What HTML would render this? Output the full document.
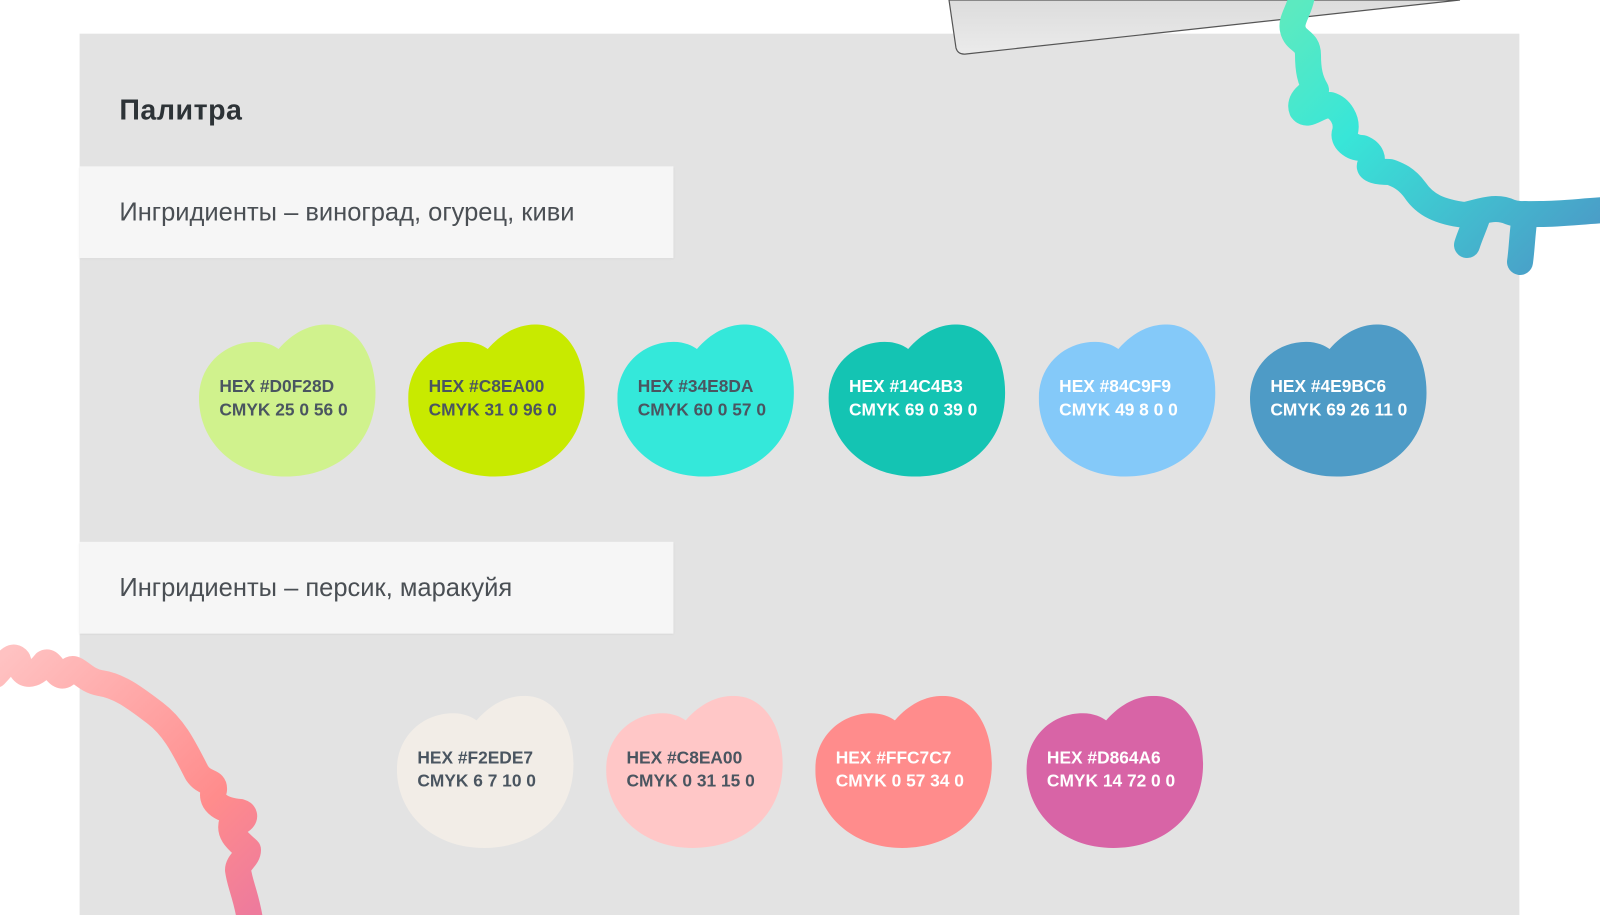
<!DOCTYPE html>
<html><head><meta charset="utf-8"><style>
html,body{margin:0;padding:0;background:#fff;width:1600px;height:915px;overflow:hidden}
#s{position:absolute;left:0;top:0;width:1568px;height:897px;transform:scale(1.0204);transform-origin:0 0;font-family:"Liberation Sans",sans-serif}
.panel{position:absolute;left:78px;top:33px;width:1411px;height:864px;background:#e3e3e3}
.title{position:absolute;left:117px;top:92px;font-size:28px;font-weight:bold;color:#2d3337;letter-spacing:0.5px}
.lab{position:absolute;left:78px;width:582px;height:90px;background:#f6f6f6;box-shadow:0 1px 2px rgba(0,0,0,0.08)}
.lab span{position:absolute;left:39px;top:31px;font-size:25px;color:#4a4f54;letter-spacing:0px}
.b{position:absolute;width:174px;height:150px}
.b svg{position:absolute;left:0;top:0}
.b div{position:absolute;left:20px;top:49px;font-size:17px;font-weight:bold;line-height:23px;color:#4a5560;white-space:nowrap}
.b.w div{color:#fff}
#o{position:absolute;left:0;top:0}
</style></head><body>
<div id="s">
<div class="panel"></div>
<div class="title">Палитра</div>
<div class="lab" style="top:163px"><span>Ингридиенты – виноград, огурец, киви</span></div>
<div class="lab" style="top:531px"><span>Ингридиенты – персик, маракуйя</span></div>

<div class="b" style="left:195px;top:318px"><svg width="174" height="150"><path d="M0,72 C0,40 25,17 55,17 C66,17 74,21 78,24 C92,8 108,0 125,0 C155,0 173,30 173,67 C173,117 135,149 85,149 C35,149 0,115 0,72Z" fill="#D0F28D"/></svg><div>HEX #D0F28D<br>CMYK 25 0 56 0</div></div>
<div class="b" style="left:400px;top:318px"><svg width="174" height="150"><path d="M0,72 C0,40 25,17 55,17 C66,17 74,21 78,24 C92,8 108,0 125,0 C155,0 173,30 173,67 C173,117 135,149 85,149 C35,149 0,115 0,72Z" fill="#C8EA00"/></svg><div>HEX #C8EA00<br>CMYK 31 0 96 0</div></div>
<div class="b" style="left:605px;top:318px"><svg width="174" height="150"><path d="M0,72 C0,40 25,17 55,17 C66,17 74,21 78,24 C92,8 108,0 125,0 C155,0 173,30 173,67 C173,117 135,149 85,149 C35,149 0,115 0,72Z" fill="#34E8DA"/></svg><div>HEX #34E8DA<br>CMYK 60 0 57 0</div></div>
<div class="b w" style="left:812px;top:318px"><svg width="174" height="150"><path d="M0,72 C0,40 25,17 55,17 C66,17 74,21 78,24 C92,8 108,0 125,0 C155,0 173,30 173,67 C173,117 135,149 85,149 C35,149 0,115 0,72Z" fill="#14C4B3"/></svg><div>HEX #14C4B3<br>CMYK 69 0 39 0</div></div>
<div class="b w" style="left:1018px;top:318px"><svg width="174" height="150"><path d="M0,72 C0,40 25,17 55,17 C66,17 74,21 78,24 C92,8 108,0 125,0 C155,0 173,30 173,67 C173,117 135,149 85,149 C35,149 0,115 0,72Z" fill="#84C9F9"/></svg><div>HEX #84C9F9<br>CMYK 49 8 0 0</div></div>
<div class="b w" style="left:1225px;top:318px"><svg width="174" height="150"><path d="M0,72 C0,40 25,17 55,17 C66,17 74,21 78,24 C92,8 108,0 125,0 C155,0 173,30 173,67 C173,117 135,149 85,149 C35,149 0,115 0,72Z" fill="#4E9BC6"/></svg><div>HEX #4E9BC6<br>CMYK 69 26 11 0</div></div>

<div class="b" style="left:389px;top:682px"><svg width="174" height="150"><path d="M0,72 C0,40 25,17 55,17 C66,17 74,21 78,24 C92,8 108,0 125,0 C155,0 173,30 173,67 C173,117 135,149 85,149 C35,149 0,115 0,72Z" fill="#F2EDE7"/></svg><div>HEX #F2EDE7<br>CMYK 6 7 10 0</div></div>
<div class="b" style="left:594px;top:682px"><svg width="174" height="150"><path d="M0,72 C0,40 25,17 55,17 C66,17 74,21 78,24 C92,8 108,0 125,0 C155,0 173,30 173,67 C173,117 135,149 85,149 C35,149 0,115 0,72Z" fill="#FFC7C7"/></svg><div>HEX #C8EA00<br>CMYK 0 31 15 0</div></div>
<div class="b w" style="left:799px;top:682px"><svg width="174" height="150"><path d="M0,72 C0,40 25,17 55,17 C66,17 74,21 78,24 C92,8 108,0 125,0 C155,0 173,30 173,67 C173,117 135,149 85,149 C35,149 0,115 0,72Z" fill="#FF8C8C"/></svg><div>HEX #FFC7C7<br>CMYK 0 57 34 0</div></div>
<div class="b w" style="left:1006px;top:682px"><svg width="174" height="150"><path d="M0,72 C0,40 25,17 55,17 C66,17 74,21 78,24 C92,8 108,0 125,0 C155,0 173,30 173,67 C173,117 135,149 85,149 C35,149 0,115 0,72Z" fill="#D864A6"/></svg><div>HEX #D864A6<br>CMYK 14 72 0 0</div></div>
</div>

<svg id="o" width="1600" height="915" viewBox="0 0 1600 915">
<defs>
<linearGradient id="g1" x1="1300" y1="0" x2="1560" y2="260" gradientUnits="userSpaceOnUse"><stop offset="0" stop-color="#5ceac0"/><stop offset="0.35" stop-color="#38e6d8"/><stop offset="1" stop-color="#4a9ec8"/></linearGradient>
<linearGradient id="g2" x1="0" y1="660" x2="250" y2="913" gradientUnits="userSpaceOnUse"><stop offset="0" stop-color="#ffc2c2"/><stop offset="0.7" stop-color="#ff8c8c"/><stop offset="1" stop-color="#ee7b9c"/></linearGradient>
<linearGradient id="pp" x1="0" y1="0" x2="0" y2="1"><stop offset="0" stop-color="#dcdcdc"/><stop offset="1" stop-color="#ebebeb"/></linearGradient>
</defs>
<path d="M949,0 L956,48 Q958,55 966,54 L1460,0 Z" fill="url(#pp)" stroke="#555" stroke-width="1.2"/>
<g fill="none" stroke="url(#g1)" stroke-width="26" stroke-linecap="round" stroke-linejoin="round">
<path d="M1302,-5 C1300,10 1290,20 1293,30 C1296,42 1308,40 1308,55 C1308,70 1310,80 1316,90 C1310,92 1298,100 1302,110 C1308,118 1318,105 1330,105 C1340,108 1348,120 1345,132 C1342,140 1352,148 1362,148 C1372,152 1374,160 1370,165 C1368,170 1378,172 1390,172 C1398,175 1406,178 1415,190 C1425,205 1440,212 1465,215 C1480,212 1495,205 1510,212 C1518,215 1525,214 1540,214 C1560,214 1575,212 1605,210"/>
<path d="M1478,215 C1475,225 1470,235 1467,245"/>
<path d="M1525,214 C1522,235 1522,248 1520,262"/>
</g>
<g fill="none" stroke="url(#g2)" stroke-width="26" stroke-linecap="round" stroke-linejoin="round">
<path d="M-5,675 C5,665 12,652 18,660 C22,680 35,676 45,663 C52,658 58,685 68,672 C75,662 82,680 100,683 C120,686 135,698 155,713 C175,728 185,750 197,773 C205,785 215,780 214,790 C210,800 218,810 240,812 C250,815 240,825 232,822 C228,835 240,842 248,850 C248,858 238,862 238,870 C240,885 246,895 250,920"/>
</g>
</svg>
</body></html>
